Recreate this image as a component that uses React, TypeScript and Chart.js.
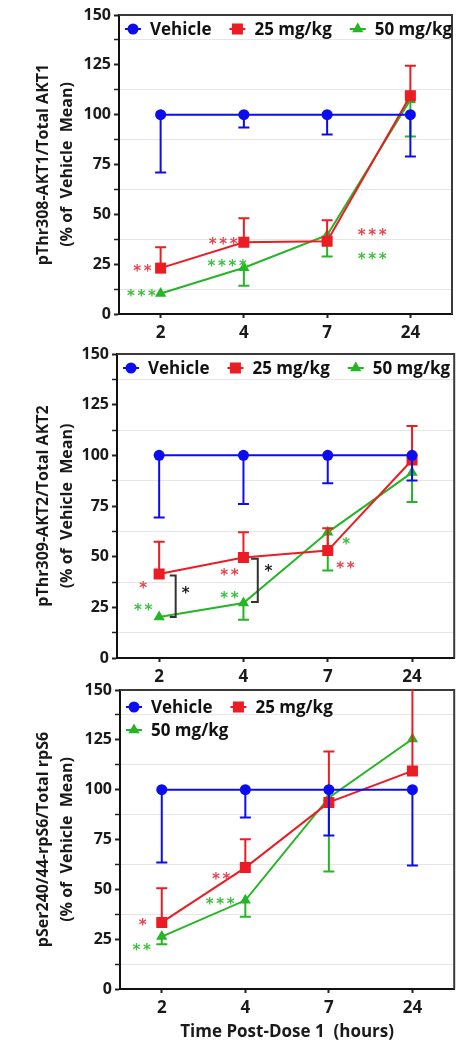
import React, { useEffect, useRef } from 'react';
import { Chart, registerables } from 'chart.js';

Chart.register(...registerables);

// ---------- shared ----------
const categories = ['2', '4', '7', '24'];
const seriesNames = ['Vehicle', '25 mg/kg', '50 mg/kg'];
const yMin = 0;
const yMax = 150;
const yStep = 12.5;
const yLabelStep = 25;

// ---------- panel 1: pThr308-AKT1 ----------
const akt1Vehicle = [100, 100, 100, 100];
const akt1VehicleLow = [71, 93.5, 90, 79];
const akt1Dose25 = [23, 36, 36.5, 109.5];
const akt1Dose25High = [33.5, 48, 47, 124.5];
const akt1Dose50 = [10.3, 23.2, 39.5, 107.5];
const akt1Dose50Low = [null, 14.2, 28.8, 89];
const akt1Stars = [
  { x: -0.22, y: 23, text: '**', tone: 'red' },
  { x: -0.23, y: 10.7, text: '***', tone: 'green' },
  { x: 0.75, y: 36.8, text: '***', tone: 'red' },
  { x: 0.8, y: 25.4, text: '****', tone: 'green' },
  { x: 2.54, y: 41, text: '***', tone: 'red' },
  { x: 2.54, y: 29.3, text: '***', tone: 'green' },
];

// ---------- panel 2: pThr309-AKT2 ----------
const akt2Vehicle = [100, 100, 100, 100];
const akt2VehicleLow = [69.3, 76, 86.2, 87.6];
const akt2Dose25 = [41.4, 49.6, 53, 97.7];
const akt2Dose25High = [57.3, 62.1, 64, 114.5];
const akt2Dose50 = [20.2, 27.1, 62, 91.5];
const akt2Dose50Low = [null, 18.9, 43.2, 77];
const akt2Stars = [
  { x: -0.19, y: 36.1, text: '*', tone: 'red' },
  { x: -0.19, y: 25, text: '**', tone: 'green' },
  { x: 0.315, y: 33.7, text: '*', tone: 'black' },
  { x: 0.835, y: 42.4, text: '**', tone: 'red' },
  { x: 0.835, y: 30.9, text: '**', tone: 'green' },
  { x: 1.295, y: 44.2, text: '*', tone: 'black' },
  { x: 2.22, y: 57.5, text: '*', tone: 'green' },
  { x: 2.21, y: 46, text: '**', tone: 'red' },
];
const akt2Brackets = [
  { x: 0.196, x0: 0.126, top: 40.7, bottom: 20.2 },
  { x: 1.17, x0: 1.09, top: 49, bottom: 27.6 },
];

// ---------- panel 3: pSer240/44-rpS6 ----------
const rps6Vehicle = [100, 100, 100, 100];
const rps6VehicleLow = [63.4, 86, 77, 61.9];
const rps6Dose25 = [33.4, 60.9, 93.6, 109.4];
const rps6Dose25High = [50.5, 75.1, 119.2, 160];
const rps6Dose50 = [26.3, 44.5, 96, 125.4];
const rps6Dose50Low = [22.4, 36.3, 58.9, null];
const rps6Stars = [
  { x: -0.23, y: 33.8, text: '*', tone: 'red' },
  { x: -0.24, y: 21.2, text: '**', tone: 'green' },
  { x: 0.71, y: 56.7, text: '**', tone: 'red' },
  { x: 0.7, y: 44.1, text: '***', tone: 'green' },
];

// ---------- styles ----------
const lineColors = ['#0c0cf0', '#ec1c24', '#25b525'];
const starColors: Record<string, string> = { red: '#e8434f', green: '#3cbf3c', black: '#222222' };
const pointStyles = ['circle', 'rect', 'triangle'];
const pointRadii = [5.5, 7.8, 6.5];
const FONT = '"Open Sans", "DejaVu Sans", sans-serif';

type PanelCfg = {
  top: number;
  height: number;
  yAxisWidth: number;
  padTop: number;
  padRight: number;
  xAxisHeight: number;
  yTitle: string[];
  xTitle: string | null;
  series: (number | null)[][];
  bounds: (number | null)[][];
  stars: { x: number; y: number; text: string; tone: string }[];
  brackets: { x: number; x0: number; top: number; bottom: number }[];
  legendRows: number[][];
  legendRowY: number[];
};

const panels: PanelCfg[] = [
  {
    top: 0, height: 345, yAxisWidth: 119, padTop: 15, padRight: 10, xAxisHeight: 31,
    yTitle: ['pThr308-AKT1/Total AKT1', '(% of  Vehicle  Mean)'], xTitle: null,
    series: [akt1Vehicle, akt1Dose25, akt1Dose50],
    bounds: [akt1VehicleLow, akt1Dose25High, akt1Dose50Low],
    stars: akt1Stars, brackets: [], legendRows: [[0, 1, 2]], legendRowY: [14],
  },
  {
    top: 340, height: 350, yAxisWidth: 117, padTop: 14, padRight: 6, xAxisHeight: 32,
    yTitle: ['pThr309-AKT2/Total AKT2', '(% of  Vehicle  Mean)'], xTitle: null,
    series: [akt2Vehicle, akt2Dose25, akt2Dose50],
    bounds: [akt2VehicleLow, akt2Dose25High, akt2Dose50Low],
    stars: akt2Stars, brackets: akt2Brackets, legendRows: [[0, 1, 2]], legendRowY: [14],
  },
  {
    top: 675, height: 367, yAxisWidth: 120, padTop: 15, padRight: 7, xAxisHeight: 53,
    yTitle: ['pSer240/44-rpS6/Total rpS6', '(% of  Vehicle  Mean)'], xTitle: 'Time Post-Dose 1  (hours)',
    series: [rps6Vehicle, rps6Dose25, rps6Dose50],
    bounds: [rps6VehicleLow, rps6Dose25High, rps6Dose50Low],
    stars: rps6Stars, brackets: [], legendRows: [[0, 1], [2]], legendRowY: [17, 40],
  },
];

function drawMarker(ctx: CanvasRenderingContext2D, i: number, x: number, y: number) {
  ctx.fillStyle = lineColors[i];
  ctx.beginPath();
  const r = pointRadii[i];
  if (pointStyles[i] === 'circle') {
    ctx.arc(x, y, r, 0, Math.PI * 2);
  } else if (pointStyles[i] === 'rect') {
    const s = r * Math.SQRT1_2;
    ctx.rect(x - s, y - s, 2 * s, 2 * s);
  } else {
    const h = r;
    ctx.moveTo(x, y - h);
    ctx.lineTo(x + h * 0.866, y + h * 0.5);
    ctx.lineTo(x - h * 0.866, y + h * 0.5);
    ctx.closePath();
  }
  ctx.fill();
}

function makePlugin(p: PanelCfg) {
  return {
    id: 'panelExtras',
    beforeDatasetsDraw(chart: any) {
      const { ctx, chartArea: a } = chart;
      ctx.save();
      ctx.strokeStyle = '#3a3a3a';
      ctx.lineWidth = 2;
      ctx.beginPath();
      ctx.moveTo(a.left, a.top);
      ctx.lineTo(a.right, a.top);
      ctx.lineTo(a.right, a.bottom);
      ctx.stroke();
      ctx.restore();
    },
    beforeDatasetDraw(chart: any, args: any) {
      const i = args.index;
      const { ctx, chartArea: a } = chart;
      const xs = chart.scales.x;
      const ys = chart.scales.y;
      const vals = p.series[i];
      const b = p.bounds[i];
      ctx.save();
      ctx.beginPath();
      ctx.rect(a.left, a.top - 1, a.right - a.left, a.bottom - a.top + 2);
      ctx.clip();
      ctx.strokeStyle = lineColors[i];
      ctx.lineWidth = 2;
      for (let k = 0; k < vals.length; k++) {
        if (vals[k] == null || b[k] == null) continue;
        const x = xs.getPixelForValue(k);
        const y0 = ys.getPixelForValue(vals[k]);
        const y1 = ys.getPixelForValue(b[k]);
        ctx.beginPath();
        ctx.moveTo(x, y0);
        ctx.lineTo(x, y1);
        ctx.moveTo(x - 5.5, y1);
        ctx.lineTo(x + 5.5, y1);
        ctx.stroke();
      }
      ctx.restore();
    },
    afterDraw(chart: any) {
      const { ctx, chartArea: a } = chart;
      const xs = chart.scales.x;
      const ys = chart.scales.y;
      ctx.save();
      // significance stars
      ctx.font = `bold 15px "DejaVu Sans", sans-serif`;
      ctx.textAlign = 'center';
      ctx.textBaseline = 'alphabetic';
      const m = ctx.measureText('*');
      const shift = (m.actualBoundingBoxAscent - m.actualBoundingBoxDescent) / 2;
      const spacing = 10.5;
      for (const s of p.stars) {
        const cx = xs.getPixelForValue(s.x);
        const cy = ys.getPixelForValue(s.y);
        ctx.fillStyle = starColors[s.tone];
        const n = s.text.length;
        for (let j = 0; j < n; j++) {
          ctx.fillText('*', cx - ((n - 1) * spacing) / 2 + j * spacing, cy + shift);
        }
      }
      // brackets
      ctx.strokeStyle = '#333333';
      ctx.lineWidth = 2;
      for (const br of p.brackets) {
        const x = xs.getPixelForValue(br.x);
        const x0 = xs.getPixelForValue(br.x0);
        const yt = ys.getPixelForValue(br.top);
        const yb = ys.getPixelForValue(br.bottom);
        ctx.beginPath();
        ctx.moveTo(x0, yt);
        ctx.lineTo(x, yt);
        ctx.lineTo(x, yb);
        ctx.lineTo(x0, yb);
        ctx.stroke();
      }
      // legend
      ctx.font = `bold 17px ${FONT}`;
      ctx.textAlign = 'left';
      ctx.textBaseline = 'middle';
      p.legendRows.forEach((row, r) => {
        let mx = a.left + 14;
        const y = a.top + p.legendRowY[r];
        for (const i of row) {
          ctx.strokeStyle = lineColors[i];
          ctx.lineWidth = 2;
          ctx.beginPath();
          ctx.moveTo(mx - 8, y);
          ctx.lineTo(mx + 8, y);
          ctx.stroke();
          drawMarker(ctx, i, mx, y);
          ctx.fillStyle = '#111111';
          const tx = mx + 17;
          ctx.fillText(seriesNames[i], tx, y + 1);
          mx = tx + ctx.measureText(seriesNames[i]).width + 26;
        }
      });
      ctx.restore();
    },
  };
}

function Panel({ p }: { p: PanelCfg }) {
  const ref = useRef<HTMLCanvasElement | null>(null);
  useEffect(() => {
    if (!ref.current) return;
    const chart = new Chart(ref.current, {
      type: 'line',
      data: {
        labels: categories,
        datasets: p.series.map((vals, i) => ({
          label: seriesNames[i],
          data: vals,
          borderColor: lineColors[i],
          backgroundColor: lineColors[i],
          pointBackgroundColor: lineColors[i],
          pointBorderColor: lineColors[i],
          pointStyle: pointStyles[i] as any,
          pointRadius: pointRadii[i],
          pointBorderWidth: 0,
          borderWidth: 2,
          tension: 0,
          clip: 4,
        })),
      },
      options: {
        responsive: false,
        animation: false,
        devicePixelRatio: 1,
        layout: { padding: { top: p.padTop, right: p.padRight, left: 0, bottom: 0 } },
        plugins: { legend: { display: false }, tooltip: { enabled: false } },
        scales: {
          x: {
            type: 'category',
            offset: true,
            grid: { display: true, drawOnChartArea: false, drawTicks: true, tickLength: 4, tickColor: '#222222', tickWidth: 2 },
            border: { display: true, color: '#111111', width: 2 },
            ticks: { font: { family: FONT, weight: 'bold', size: 17 }, color: '#1a1a1a', padding: 5, maxRotation: 0 },
            title: p.xTitle
              ? { display: true, text: p.xTitle, font: { family: FONT, weight: 'bold', size: 17, lineHeight: 1.2 }, color: '#1a1a1a', padding: { top: 0, bottom: 0 } }
              : { display: false },
            afterFit: (s: any) => { s.height = p.xAxisHeight; },
          },
          y: {
            min: yMin,
            max: yMax,
            ticks: {
              stepSize: yStep,
              maxTicksLimit: 20,
              autoSkip: false,
              callback: (v: any) => (Number(v) % yLabelStep === 0 ? String(v) : ''),
              font: { family: FONT, weight: 'bold', size: 16 },
              color: '#1a1a1a',
              padding: 3,
            },
            grid: {
              color: (c: any) => (c.tick && c.tick.value % yLabelStep === 0 ? 'rgba(0,0,0,0)' : '#e6e6e6'),
              lineWidth: 1,
              drawTicks: true,
              tickLength: 5,
              tickColor: '#222222',
              tickWidth: (c: any) => (c.tick && c.tick.value % yLabelStep === 0 ? 2 : 1.5),
            },
            border: { display: true, color: '#111111', width: 2 },
            title: {
              display: true,
              text: p.yTitle,
              font: { family: FONT, weight: 'bold', size: 16, lineHeight: 1.5 },
              color: '#1a1a1a',
              padding: { top: 31, bottom: 0 },
            },
            afterFit: (s: any) => { s.width = p.yAxisWidth; },
          },
        },
      } as any,
      plugins: [makePlugin(p)],
    });
    return () => chart.destroy();
  }, [p]);
  return (
    <canvas
      ref={ref}
      width={462}
      height={p.height}
      style={{ position: 'absolute', left: 0, top: p.top, width: 462, height: p.height, display: 'block' }}
    />
  );
}

export default function App() {
  return (
    <div style={{ position: 'absolute', left: 0, top: 0, width: 462, height: 1042, background: '#ffffff', overflow: 'hidden' }}>
      {panels.map((p, i) => (
        <Panel key={i} p={p} />
      ))}
    </div>
  );
}
